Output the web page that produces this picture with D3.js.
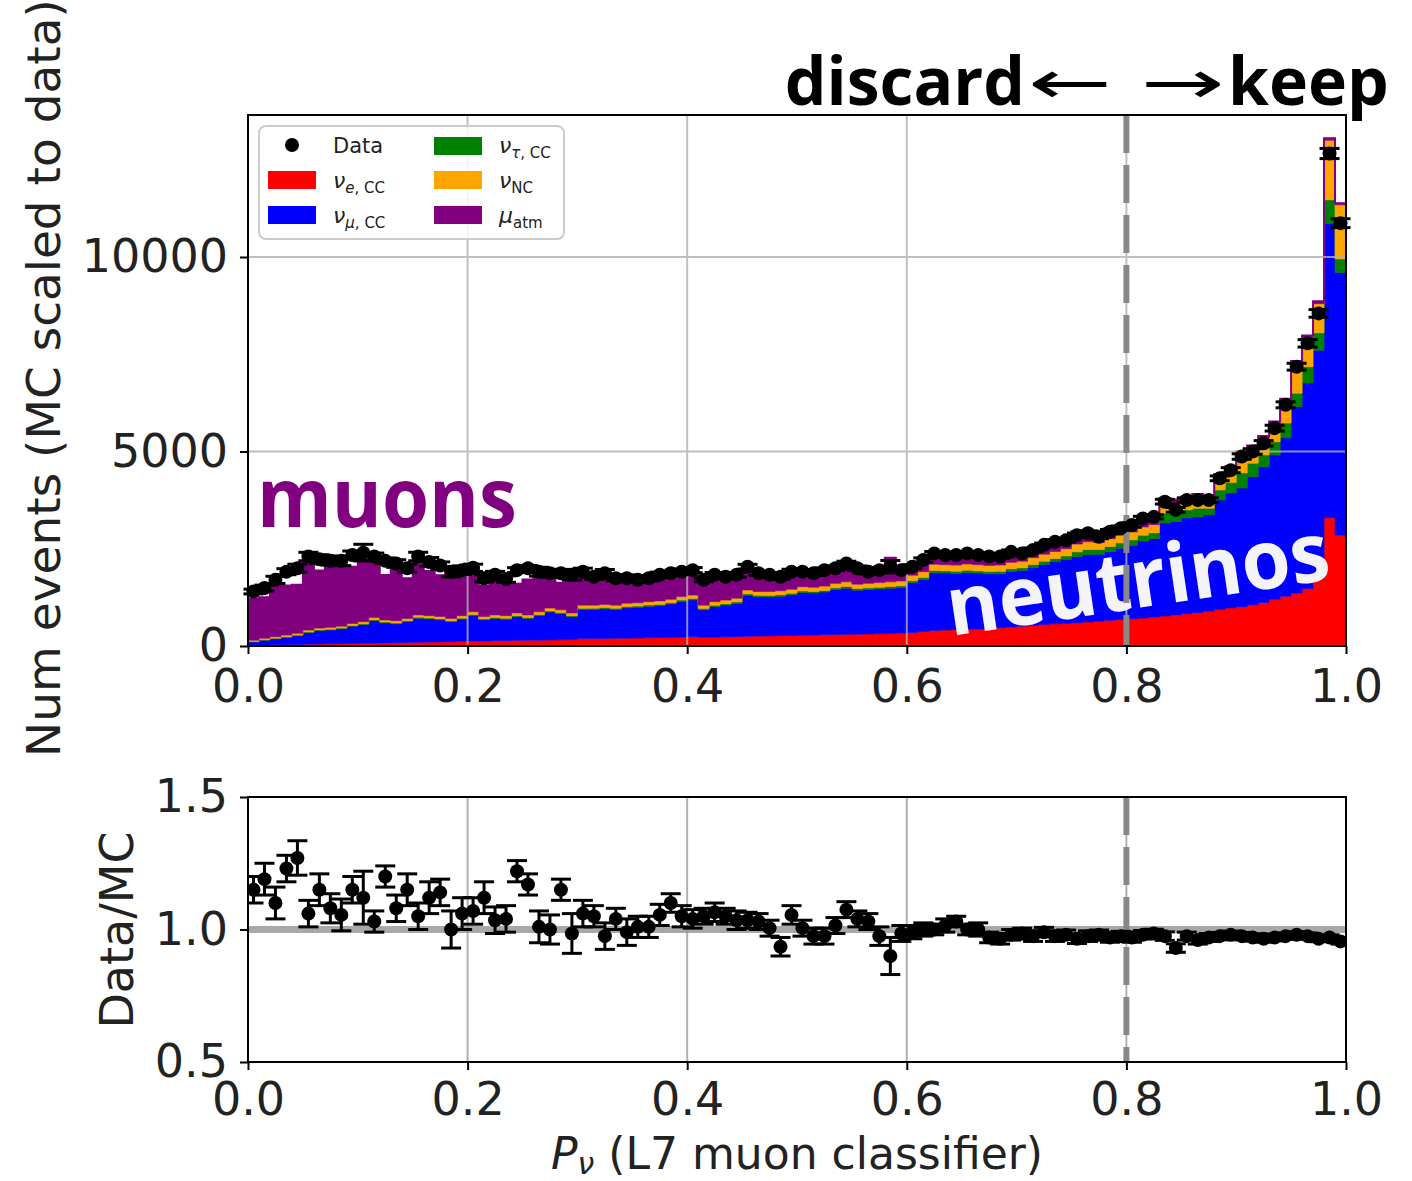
<!DOCTYPE html>
<html><head><meta charset="utf-8">
<script src="https://cdn.jsdelivr.net/npm/d3@7"></script>
<style>body{margin:0;background:#fff}svg{display:block}</style>
</head><body><svg id="c" width="1412" height="1181"></svg>
<script>
// ---------- data (100 bins of P_nu, width 0.01) ----------
const nuE = [20,25,30,35,40,45,50,55,60,65,
70,75,80,85,90,95,100,105,110,120,
130,125,135,140,145,150,150,155,160,170,
190,190,195,200,200,205,210,215,220,225,
235,225,230,235,240,250,255,260,265,270,
280,285,290,295,300,305,310,315,320,330,
350,370,400,410,420,430,440,450,470,490,
510,530,550,570,580,600,620,640,660,680,
700,720,740,770,800,830,860,900,940,980,
1010,1060,1120,1200,1280,1360,1480,1750,3300,2850];
const nuMu = [80,121,154,186,222,298,347,356,380,443,
480,578,514,486,538,620,599,572,516,571,
657,549,575,549,609,556,631,717,670,582,
750,752,762,740,783,791,812,824,860,920,
948,707,785,817,859,1052,1009,1002,1013,1045,
1095,1077,1096,1158,1187,1131,1142,1152,1165,1172,
1280,1335,1480,1467,1442,1460,1434,1405,1388,1430,
1430,1490,1550,1600,1650,1700,1730,1720,1770,1830,
1890,1980,2020,2390,2400,2460,2460,2470,2810,2950,
3050,3290,3490,3710,4070,4790,5280,5850,7570,6750];
const nuTau = [15,16,16,17,18,19,18,19,20,20,
20,22,21,21,22,23,23,23,22,24,
25,24,25,25,26,26,27,28,28,28,
30,30,31,30,32,32,33,33,34,35,
35,33,35,36,36,38,38,38,40,40,
40,40,42,42,45,42,43,45,45,46,
50,55,60,58,60,60,58,60,62,65,
70,75,80,80,85,120,130,120,130,140,
140,150,150,250,210,210,220,170,260,270,
390,350,300,340,380,350,420,450,600,350];
const nuNC = [35,38,40,42,45,48,45,50,50,52,
55,60,55,58,60,62,58,60,62,65,
68,62,65,66,70,68,72,75,72,70,
80,78,82,80,85,82,85,88,86,90,
92,85,90,92,95,100,98,100,102,105,
110,108,112,115,118,112,115,118,120,122,
140,150,160,155,158,160,158,155,160,165,
170,175,180,180,185,200,200,180,200,200,
200,210,210,245,253,226,236,216,291,302,
445,365,399,433,549,757,739,750,1532,1392];
const muAtm = [1067,1052,1305,1273,1250,1760,1479,1548,1566,1455,
1518,1498,1155,1313,1029,1390,1149,1056,1200,1060,
999,794,968,874,748,909,1011,895,696,1008,
752,645,848,623,658,573,583,575,500,549,
565,569,578,515,538,531,416,421,484,350,
375,408,460,360,322,333,244,370,617,310,
240,300,280,215,192,270,250,301,303,319,
236,263,266,319,276,333,294,207,271,258,
276,287,251,150,100,120,130,110,120,110,
100,90,90,90,80,70,60,60,50,40];
const dataCounts = [1400,1490,1700,1910,2000,2300,2230,2190,2190,2340,
2400,2300,2190,2120,2000,2300,2160,2070,1910,1950,
2010,1740,1830,1720,1950,2000,1910,1870,1870,1830,
1910,1780,1870,1740,1740,1700,1740,1830,1870,1910,
1950,1700,1830,1780,1830,2040,1870,1830,1780,1910,
1910,1870,1950,2000,2120,2000,1910,1950,2040,1950,
2040,2210,2380,2340,2340,2380,2340,2300,2300,2420,
2380,2470,2600,2680,2720,2850,2900,2810,2940,3030,
3110,3280,3320,3710,3500,3750,3750,3750,4310,4520,
4870,5000,5210,5600,6200,7180,7780,8550,12660,10870];
const ratio = [1.15,1.19,1.10,1.23,1.27,1.06,1.15,1.08,1.055,1.15,
1.12,1.03,1.20,1.08,1.15,1.05,1.12,1.14,1.00,1.06,
1.07,1.12,1.035,1.04,1.22,1.17,1.01,1.00,1.15,0.985,
1.06,1.05,0.975,1.04,0.99,1.01,1.01,1.055,1.10,1.05,
1.04,1.05,1.065,1.05,1.035,1.035,1.03,1.005,0.935,1.055,
1.005,0.975,0.975,1.015,1.075,1.04,1.03,0.975,0.90,0.985,
0.99,1.00,1.00,1.015,1.03,1.00,1.00,0.97,0.965,0.98,
0.985,0.975,0.99,0.975,0.98,0.965,0.975,0.98,0.97,0.975,
0.97,0.98,0.985,0.975,0.93,0.975,0.96,0.97,0.975,0.98,
0.975,0.97,0.965,0.97,0.975,0.98,0.975,0.965,0.97,0.955];
const ratioErr = [0.05,0.06,0.06,0.05,0.065,0.05,0.06,0.055,0.06,0.05,
0.10,0.04,0.04,0.05,0.06,0.05,0.06,0.05,0.07,0.06,
0.05,0.06,0.05,0.05,0.04,0.04,0.06,0.055,0.04,0.075,
0.05,0.04,0.05,0.04,0.05,0.04,0.04,0.04,0.035,0.04,
0.035,0.03,0.035,0.03,0.035,0.03,0.03,0.03,0.035,0.035,
0.03,0.03,0.03,0.03,0.03,0.03,0.03,0.035,0.07,0.03,
0.025,0.025,0.02,0.025,0.02,0.02,0.025,0.02,0.02,0.02,
0.02,0.02,0.018,0.02,0.018,0.018,0.02,0.018,0.018,0.018,
0.018,0.016,0.016,0.016,0.016,0.015,0.015,0.015,0.014,0.014,
0.014,0.014,0.013,0.013,0.012,0.012,0.012,0.011,0.01,0.01];
const xTicks = [0.0,0.2,0.4,0.6,0.8,1.0];
const yTopTicks = [0,5000,10000];
const yBotTicks = [0.5,1.0,1.5];
const cutValue = 0.8;

// ---------- setup ----------
const svg = d3.select('#c');
const FONT = "'DejaVu Sans', sans-serif";
const TF = "'Open Sans', sans-serif";
const x = d3.scaleLinear().domain([0,1]).range([248,1346]);
const yT = d3.scaleLinear().domain([0,13650]).range([646,115]);
const yB = d3.scaleLinear().domain([0.5,1.5]).range([1062,797]);
const nBins = nuE.length;
const bins = d3.range(nBins).map(i => ({lo:i/nBins, hi:(i+1)/nBins, nuE:nuE[i], nuMu:nuMu[i], nuTau:nuTau[i], nuNC:nuNC[i], muAtm:muAtm[i]}));
const keys = ['nuE','nuMu','nuTau','nuNC','muAtm'];
const colors = {nuE:'#ff0000', nuMu:'#0000ff', nuTau:'#008000', nuNC:'#ffa500', muAtm:'#800080'};
const stacked = d3.stack().keys(keys)(bins);

const defs = svg.append('defs');
defs.append('clipPath').attr('id','clipT').append('rect').attr('x',248).attr('y',115).attr('width',1098).attr('height',531);
defs.append('clipPath').attr('id','clipB').append('rect').attr('x',248).attr('y',797).attr('width',1098).attr('height',265);

// ---------- top panel ----------
const gT = svg.append('g').attr('clip-path','url(#clipT)');
const area = d3.area().x(p=>x(p.x)).y0(p=>yT(p.y0)).y1(p=>yT(p.y1));
stacked.forEach(layer => {
  const pts = [];
  layer.forEach((d,i) => { pts.push({x:bins[i].lo, y0:d[0], y1:d[1]}); pts.push({x:bins[i].hi, y0:d[0], y1:d[1]}); });
  gT.append('path').attr('d', area(pts)).attr('fill', colors[layer.key]).attr('stroke', colors[layer.key]).attr('stroke-width',0.6);
});
const topLayer = stacked[stacked.length-1];
const outline = [];
topLayer.forEach((d,i)=>{ outline.push([x(bins[i].lo), yT(d[1])]); outline.push([x(bins[i].hi), yT(d[1])]); });
gT.append('path').attr('d', d3.line()(outline)).attr('fill','none').attr('stroke','#800080').attr('stroke-width',2);

// grid top
const gridT = svg.append('g').attr('stroke','#b0b0b0').attr('stroke-width',2).attr('opacity',0.8);
xTicks.slice(1,-1).forEach(t => gridT.append('line').attr('x1',x(t)).attr('x2',x(t)).attr('y1',115).attr('y2',646));
yTopTicks.slice(1).forEach(t => gridT.append('line').attr('x1',248).attr('x2',1346).attr('y1',yT(t)).attr('y2',yT(t)));

// annotations
svg.append('text').attr('x',257).attr('y',527).attr('font-family',TF).attr('font-weight',700)
  .attr('font-size',82).attr('textLength',260).attr('lengthAdjust','spacingAndGlyphs').attr('fill','#800080').text('muons');
svg.append('text').attr('transform','translate(951,636) rotate(-8.5)').attr('font-family',TF).attr('font-weight',700)
  .attr('font-size',82).attr('textLength',386).attr('lengthAdjust','spacingAndGlyphs').attr('fill','#f4f4f8').text('neutrinos');

// dashed cut line top
svg.append('line').attr('x1',x(cutValue)).attr('x2',x(cutValue)).attr('y1',115).attr('y2',646)
  .attr('stroke','#888').attr('stroke-width',6).attr('stroke-dasharray','38,12');

// data points top
const gD = svg.append('g');
dataCounts.forEach((v,i) => {
  const cx = x((bins[i].lo+bins[i].hi)/2);
  const e = ratioErr[i]*v/ratio[i];
  gD.append('line').attr('x1',cx).attr('x2',cx).attr('y1',yT(v-e)).attr('y2',yT(v+e)).attr('stroke','#000').attr('stroke-width',3);
  [v-e, v+e].forEach(c => gD.append('line').attr('x1',cx-10).attr('x2',cx+10).attr('y1',yT(c)).attr('y2',yT(c)).attr('stroke','#000').attr('stroke-width',3));
  gD.append('circle').attr('cx',cx).attr('cy',yT(v)).attr('r',7).attr('fill','#000');
});

// legend
const lg = svg.append('g');
lg.append('rect').attr('x',259).attr('y',126).attr('width',305).attr('height',113).attr('rx',7)
  .attr('fill','#fff').attr('fill-opacity',0.82).attr('stroke','#cccccc').attr('stroke-width',2);
lg.append('circle').attr('cx',292).attr('cy',145).attr('r',7).attr('fill','#000');
lg.append('text').attr('x',333).attr('y',153).attr('font-family',FONT).attr('font-size',21).attr('fill','#222').text('Data');
const legItems = [
  {key:'nuE', px:268, py:171, tx:333, ty:188, main:'ν', subI:'e', sub:', CC'},
  {key:'nuMu', px:268, py:206, tx:333, ty:223, main:'ν', subI:'μ', sub:', CC'},
  {key:'nuTau', px:434, py:137, tx:499, ty:153, main:'ν', subI:'τ', sub:', CC'},
  {key:'nuNC', px:434, py:171, tx:499, ty:188, main:'ν', subI:'', sub:'NC'},
  {key:'muAtm', px:434, py:206, tx:499, ty:223, main:'μ', subI:'', sub:'atm'}
];
legItems.forEach(it => {
  lg.append('rect').attr('x',it.px).attr('y',it.py).attr('width',48).attr('height',18).attr('fill',colors[it.key]);
  const t = lg.append('text').attr('x',it.tx).attr('y',it.ty).attr('font-family',FONT).attr('font-size',22).attr('fill','#222');
  t.append('tspan').attr('font-style','italic').text(it.main);
  if (it.subI) {
    t.append('tspan').attr('font-style','italic').attr('font-size',15).attr('dy',5).text(it.subI);
    t.append('tspan').attr('font-size',15).text(it.sub);
  } else {
    t.append('tspan').attr('font-size',15).attr('dy',5).text(it.sub);
  }
});

// frame + axes top
svg.append('rect').attr('x',248).attr('y',115).attr('width',1098).attr('height',531).attr('fill','none').attr('stroke','#000').attr('stroke-width',2);
const fmt1 = d3.format('.1f');
function styleAxis(g){
  g.select('.domain').remove();
  g.selectAll('line').attr('stroke','#000').attr('stroke-width',2);
  g.selectAll('text').attr('font-family',FONT).attr('font-size',46).attr('fill','#222');
}
svg.append('g').attr('transform','translate(0,646)')
  .call(d3.axisBottom(x).tickValues(xTicks).tickFormat(fmt1).tickSize(8).tickPadding(15)).call(styleAxis);
svg.append('g').attr('transform','translate(248,0)')
  .call(d3.axisLeft(yT).tickValues(yTopTicks).tickFormat(d3.format('d')).tickSize(8).tickPadding(12)).call(styleAxis);
svg.append('text').attr('transform','translate(60,378) rotate(-90)').attr('text-anchor','middle')
  .attr('font-family',FONT).attr('font-size',47).attr('fill','#222').text('Num events (MC scaled to data)');

// top arrows text
svg.append('text').attr('x',1025).attr('y',105).attr('text-anchor','end').attr('font-family',TF).attr('font-weight',700).attr('font-size',66).attr('fill','#000').text('discard');
svg.append('text').attr('x',1028).attr('y',103).attr('font-family',FONT).attr('font-size',60).attr('textLength',84).attr('lengthAdjust','spacingAndGlyphs').attr('fill','#000').text('←');
svg.append('text').attr('x',1141).attr('y',103).attr('font-family',FONT).attr('font-size',60).attr('textLength',84).attr('lengthAdjust','spacingAndGlyphs').attr('fill','#000').text('→');
svg.append('text').attr('x',1228).attr('y',105).attr('font-family',TF).attr('font-weight',700).attr('font-size',66).attr('fill','#000').text('keep');

// ---------- bottom panel ----------
const gridB = svg.append('g').attr('stroke','#b0b0b0').attr('stroke-width',2);
xTicks.slice(1,-1).forEach(t => gridB.append('line').attr('x1',x(t)).attr('x2',x(t)).attr('y1',797).attr('y2',1062));
svg.append('line').attr('x1',248).attr('x2',1346).attr('y1',yB(1)).attr('y2',yB(1)).attr('stroke','#999').attr('stroke-width',7).attr('opacity',0.85);
svg.append('line').attr('x1',x(cutValue)).attr('x2',x(cutValue)).attr('y1',797).attr('y2',1062)
  .attr('stroke','#888').attr('stroke-width',6).attr('stroke-dasharray','38,12');
const gR = svg.append('g').attr('clip-path','url(#clipB)');
ratio.forEach((r,i) => {
  const cx = x((bins[i].lo+bins[i].hi)/2);
  const e = ratioErr[i];
  gR.append('line').attr('x1',cx).attr('x2',cx).attr('y1',yB(r-e)).attr('y2',yB(r+e)).attr('stroke','#000').attr('stroke-width',3);
  [r-e, r+e].forEach(c => gR.append('line').attr('x1',cx-10).attr('x2',cx+10).attr('y1',yB(c)).attr('y2',yB(c)).attr('stroke','#000').attr('stroke-width',3));
  gR.append('circle').attr('cx',cx).attr('cy',yB(r)).attr('r',7).attr('fill','#000');
});
svg.append('rect').attr('x',248).attr('y',797).attr('width',1098).attr('height',265).attr('fill','none').attr('stroke','#000').attr('stroke-width',2);
svg.append('g').attr('transform','translate(0,1062)')
  .call(d3.axisBottom(x).tickValues(xTicks).tickFormat(fmt1).tickSize(8).tickPadding(12)).call(styleAxis);
svg.append('g').attr('transform','translate(248,0)')
  .call(d3.axisLeft(yB).tickValues(yBotTicks).tickFormat(fmt1).tickSize(8).tickPadding(12)).call(styleAxis);
svg.append('text').attr('transform','translate(133,930) rotate(-90)').attr('text-anchor','middle')
  .attr('font-family',FONT).attr('font-size',46).attr('fill','#222').text('Data/MC');
const xl = svg.append('text').attr('x',797).attr('y',1169).attr('text-anchor','middle')
  .attr('font-family',FONT).attr('font-size',44).attr('fill','#222');
xl.append('tspan').attr('font-style','italic').text('P');
xl.append('tspan').attr('font-style','italic').attr('font-size',30).attr('dy',5).text('ν');
xl.append('tspan').attr('dy',-5).text(' (L7 muon classifier)');
</script></body></html>
